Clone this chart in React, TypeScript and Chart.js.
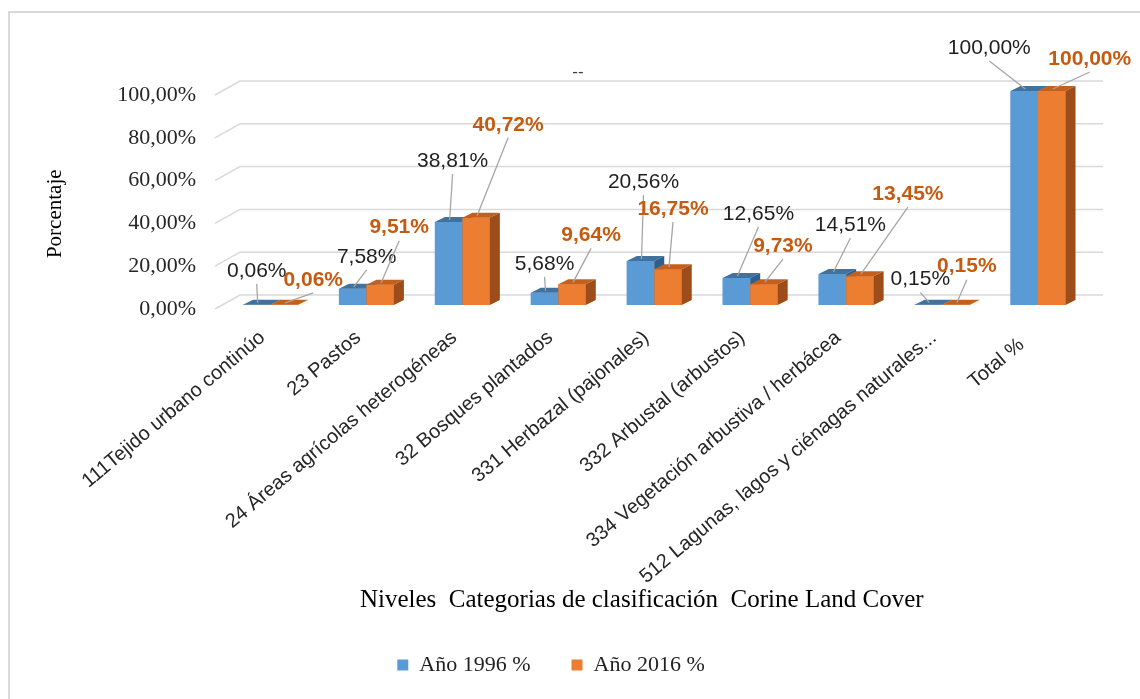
import { useEffect, useRef } from 'react';
import { Chart, registerables } from 'chart.js';

Chart.register(...registerables);

// ---- data ----
const categories = [
  '111Tejido urbano continúo',
  '23 Pastos',
  '24 Áreas agrícolas heterogéneas',
  '32 Bosques plantados',
  '331 Herbazal (pajonales)',
  '332 Arbustal (arbustos)',
  '334 Vegetación arbustiva / herbácea',
  '512 Lagunas, lagos y ciénagas naturales...',
  'Total %  ',
];
const year1996 = [0.06, 7.58, 38.81, 5.68, 20.56, 12.65, 14.51, 0.15, 100];
const year2016 = [0.06, 9.51, 40.72, 9.64, 16.75, 9.73, 13.45, 0.15, 100];
const seriesNames = ['Año 1996 %', 'Año 2016 %'];
const yTicks = [0, 20, 40, 60, 80, 100];
const chartTitle = '--';
const xTitle = 'Niveles  Categorias de clasificación  Corine Land Cover';
const yTitle = 'Porcentaje';

// data-label placement (px, relative to the top centre of each bar)
const labelShift1996 = [[0, -34], [14, -32], [4, -61], [0, -29], [3, -79], [22, -64], [18, -49], [-8, -25], [-35, -43]];
const labelShift2016 = [[29, -25], [19, -57], [32, -93], [19, -49], [5, -60], [19, -38], [48, -82], [11, -38], [38, -32]];

const SERIF = '"Liberation Serif", "Times New Roman", serif';
const SANS = '"Liberation Sans", Arial, sans-serif';
const fmt = (v: number) => v.toFixed(2).replace('.', ',') + '%';

const DX = 10;
const DY = 5;
const faceColors = [
  { top: '#41719C', side: '#2F5F8C' },
  { top: '#C4601E', side: '#9C4D1A' },
];

const threeD = {
  id: 'threeD',
  beforeDraw(chart: any) {
    const { ctx, width, height } = chart;
    ctx.save();
    ctx.strokeStyle = '#D9D9D9';
    ctx.lineWidth = 2;
    ctx.beginPath();
    ctx.moveTo(9, height);
    ctx.lineTo(9, 12);
    ctx.lineTo(width, 12);
    ctx.stroke();
    ctx.fillStyle = '#404040';
    ctx.font = `17px ${SANS}`;
    ctx.textAlign = 'center';
    ctx.textBaseline = 'middle';
    ctx.fillText(chartTitle, width / 2 + 8, 72);
    ctx.restore();
  },
  beforeDatasetsDraw(chart: any) {
    const { ctx, chartArea, scales } = chart;
    const y = scales.y;
    ctx.save();
    ctx.strokeStyle = '#D9D9D9';
    ctx.lineWidth = 1.5;
    for (const v of yTicks) {
      const py = y.getPixelForValue(v);
      ctx.beginPath();
      ctx.moveTo(chartArea.left - 7.5, py + 4);
      ctx.lineTo(chartArea.left + 17.5, py - 10);
      ctx.lineTo(chartArea.right + 17, py - 10);
      ctx.stroke();
    }
    ctx.restore();
  },
  afterDatasetsDraw(chart: any) {
    const { ctx } = chart;
    ctx.save();
    // draw every bar as a 3D block: series in index order so the right-hand
    // bar of a pair hides the side face of the left-hand one
    [0, 1].forEach((di) => {
      const meta = chart.getDatasetMeta(di);
      const front = chart.data.datasets[di].backgroundColor;
      const c = faceColors[di];
      meta.data.forEach((bar: any) => {
        const { x, y, width, base } = bar.getProps(['x', 'y', 'width', 'base'], true);
        const l = x - width / 2;
        const r = x + width / 2;
        ctx.fillStyle = front;
        ctx.fillRect(l, y, width, base - y);
        ctx.fillStyle = c.top;
        ctx.beginPath();
        ctx.moveTo(l, y);
        ctx.lineTo(l + DX, y - DY);
        ctx.lineTo(r + DX, y - DY);
        ctx.lineTo(r, y);
        ctx.closePath();
        ctx.fill();
        ctx.fillStyle = c.side;
        ctx.beginPath();
        ctx.moveTo(r, y);
        ctx.lineTo(r + DX, y - DY);
        ctx.lineTo(r + DX, base - DY);
        ctx.lineTo(r, base);
        ctx.closePath();
        ctx.fill();
      });
    });
    ctx.restore();
  },
  afterDraw(chart: any) {
    const { ctx } = chart;
    ctx.save();
    [0, 1].forEach((di) => {
      const meta = chart.getDatasetMeta(di);
      const shifts = di === 0 ? labelShift1996 : labelShift2016;
      const vals = chart.data.datasets[di].data as number[];
      meta.data.forEach((bar: any, j: number) => {
        const { x, y } = bar.getProps(['x', 'y'], true);
        const lx = x + shifts[j][0];
        const ly = y + shifts[j][1];
        ctx.strokeStyle = '#A6A6A6';
        ctx.lineWidth = 1.3;
        ctx.beginPath();
        ctx.moveTo(lx, ly + 13);
        ctx.lineTo(x + 1, y - 2);
        ctx.stroke();
        ctx.font = di === 0 ? `21px ${SANS}` : `bold 21px ${SANS}`;
        ctx.fillStyle = di === 0 ? '#1F1F1F' : '#C55A11';
        ctx.textAlign = 'center';
        ctx.textBaseline = 'middle';
        ctx.fillText(fmt(vals[j]), lx, ly);
      });
    });
    ctx.restore();
  },
};

export default function App() {
  const ref = useRef<HTMLCanvasElement>(null);
  useEffect(() => {
    const chart = new Chart(ref.current as HTMLCanvasElement, {
      type: 'bar',
      data: {
        labels: categories,
        datasets: [
          { label: seriesNames[0], data: year1996, backgroundColor: '#5B9BD5', borderWidth: 0 },
          { label: seriesNames[1], data: year2016, backgroundColor: '#ED7D31', borderWidth: 0 },
        ],
      },
      options: {
        responsive: false,
        animation: false,
        layout: { padding: { left: 16, right: 54, top: 91, bottom: 13 } },
        datasets: { bar: { categoryPercentage: 0.573, barPercentage: 1 } },
        plugins: {
          legend: {
            position: 'bottom',
            labels: {
              boxWidth: 11,
              boxHeight: 11,
              padding: 41,
              color: '#1F1F1F',
              font: { family: SERIF, size: 22 },
            },
          },
          tooltip: { enabled: false },
          title: { display: false },
        },
        scales: {
          x: {
            grid: { display: false, drawTicks: false },
            border: { display: false },
            ticks: {
              autoSkip: false,
              minRotation: 40,
              maxRotation: 40,
              padding: 21,
              labelOffset: -8,
              color: '#262626',
              font: { family: SANS, size: 20 },
            },
            title: {
              display: true,
              text: xTitle + '    ',
              color: '#000000',
              font: { family: SERIF, size: 25, lineHeight: 1 },
              padding: 0,
            },
            afterFit: (axis: any) => {
              axis.height = 308;
            },
          },
          y: {
            min: 0,
            max: 100,
            grid: { display: false, drawTicks: false },
            border: { display: false },
            ticks: {
              stepSize: 20,
              padding: 26.5,
              labelOffset: 4,
              color: '#262626',
              font: { family: SERIF, size: 22 },
              callback: (v: any) => fmt(Number(v)),
            },
            title: {
              display: true,
              text: yTitle + '      ',
              color: '#000000',
              font: { family: SERIF, size: 21 },
              padding: { top: 27, bottom: 0 },
            },
            afterFit: (axis: any) => {
              axis.width = 206.5;
            },
          },
        },
      } as any,
      plugins: [threeD],
    });
    return () => chart.destroy();
  }, []);
  return (
    <div style={{ position: 'fixed', left: 0, top: 0, width: 1140, height: 699, background: '#ffffff' }}>
      <canvas ref={ref} width={1140} height={699} style={{ display: 'block' }} />
    </div>
  );
}
